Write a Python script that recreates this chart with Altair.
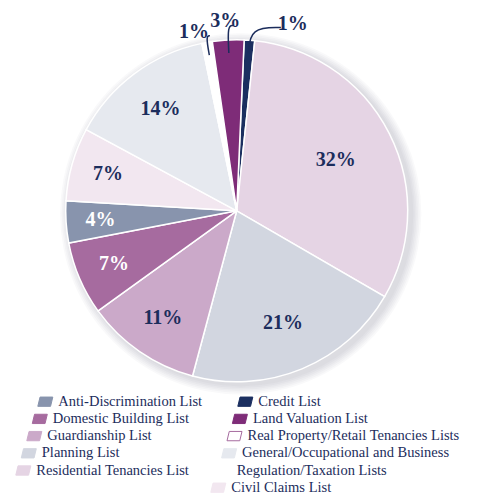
import altair as alt
import pandas as pd

# ---- data (clockwise from the top) ----
categories = [
    "Credit List",
    "Residential Tenancies List",
    "Planning List",
    "Guardianship List",
    "Domestic Building List",
    "Anti-Discrimination List",
    "Civil Claims List",
    "General/Occupational and Business Regulation/Taxation Lists",
    "Real Property/Retail Tenancies Lists",
    "Land Valuation List",
]
shares = [1, 32, 21, 11, 7, 4, 7, 14, 1, 3]
slice_colors = ["#1b2f60", "#e5d4e4", "#d2d6e0", "#cba9c9", "#a66b9f",
                "#8894ad", "#f2e7f0", "#e6e9ef", "#ffffff", "#7e2c78"]

legend_left = ["Anti-Discrimination List", "Domestic Building List", "Guardianship List",
               "Planning List", "Residential Tenancies List"]
legend_right = ["Credit List", "Land Valuation List", "Real Property/Retail Tenancies Lists",
                "General/Occupational and Business Regulation/Taxation Lists", "Civil Claims List"]
wrapped = {"General/Occupational and Business Regulation/Taxation Lists":
           ["General/Occupational and Business", "Regulation/Taxation Lists"]}

pie_df = pd.DataFrame({"category": categories, "share": shares, "slot": list(range(len(categories)))})

rows = []
for col, names in enumerate([legend_left, legend_right]):
    row = 0
    for name in names:
        for k, line in enumerate(wrapped.get(name, [name])):
            rows.append({"category": name, "col": col, "row": row, "text": line, "first": k == 0})
            row += 1
legend_df = pd.DataFrame(rows)

# ---- layout / style ----
W, H = 461, 487
CX, CY = 228.7, 202.8
R = 171
OFF = 0.0436
NAVY = "#1c2d5c"
FONT = "Liberation Serif"
PURPLE_EDGE = "#a66b9f"

xs = alt.Scale(domain=[-CX, W - CX], nice=False, zero=False)
ys = alt.Scale(domain=[-(H - CY), CY], nice=False, zero=False)
color_scale = alt.Scale(domain=categories, range=slice_colors)
stroke_scale = alt.Scale(domain=categories,
                         range=[c if c != "#ffffff" else PURPLE_EDGE for c in slice_colors])

base = (
    alt.Chart(pie_df)
    .transform_window(cum="sum(share)", sort=[alt.SortField("slot", order="ascending")], frame=[None, 0])
    .transform_joinaggregate(total="sum(share)")
    .transform_calculate(a0=f"{OFF} + 2*PI*(datum.cum - datum.share)/datum.total")
    .transform_calculate(a1=f"{OFF} + 2*PI*datum.cum/datum.total")
    .transform_calculate(mid="(datum.a0 + datum.a1)/2")
    .transform_calculate(signed="datum.mid > PI ? datum.mid - 2*PI : datum.mid")
    .transform_calculate(cx="0")
    .transform_calculate(cy="0")
)

# soft shadow
shadow_layers = []
for i in range(1, 7):
    shadow_layers.append(
        base.transform_filter("datum.slot == 0")
        .transform_calculate(sx="4", sy="-3")
        .mark_arc(radius=R + 1.6 * i, theta=0, theta2=6.2832, fill="#5a5a70", opacity=0.035)
        .encode(x=alt.X("sx:Q", scale=xs, axis=None), y=alt.Y("sy:Q", scale=ys, axis=None))
    )

pie = base.mark_arc(radius=R, stroke="white", strokeWidth=1.5).encode(
    x=alt.X("cx:Q", scale=xs, axis=None),
    y=alt.Y("cy:Q", scale=ys, axis=None),
    theta=alt.Theta("a0:Q", scale=None, stack=None),
    theta2="a1:Q",
    fill=alt.Fill("category:N", scale=color_scale, legend=None),
)

inner = (
    base.transform_filter("datum.share > 3")
    .transform_calculate(lr="140 - 0.9*datum.share")
    .transform_calculate(lx="datum.lr*sin(datum.mid)")
    .transform_calculate(ly="datum.lr*cos(datum.mid)")
    .transform_calculate(txt="datum.share + '%'")
    .mark_text(font=FONT, fontSize=20, fontWeight="bold", baseline="middle", align="center")
    .encode(
        x=alt.X("lx:Q", scale=xs, axis=None),
        y=alt.Y("ly:Q", scale=ys, axis=None),
        text="txt:N",
        color=alt.condition(
            alt.FieldOneOfPredicate(field="category",
                                    oneOf=["Domestic Building List", "Anti-Discrimination List"]),
            alt.value("white"), alt.value(NAVY)),
    )
)

outer_base = (
    base.transform_filter("datum.share <= 3")
    .transform_calculate(la="datum.signed < 0 ? 1.4*datum.signed + 0.009 : 3.9*datum.signed")
    .transform_calculate(olr="192 + 46*datum.signed")
    .transform_calculate(ox="datum.olr*sin(datum.la)")
    .transform_calculate(oy="datum.olr*cos(datum.la)")
)

outer = (
    outer_base
    .transform_calculate(txt="datum.share + '%'")
    .mark_text(font=FONT, fontSize=20, fontWeight="bold", baseline="middle", align="center", color=NAVY)
    .encode(x=alt.X("ox:Q", scale=xs, axis=None), y=alt.Y("oy:Q", scale=ys, axis=None), text="txt:N")
)

leaders = (
    outer_base
    .transform_calculate(ex="datum.ox - 16*max(-1, min(1, datum.signed*10))")
    .transform_calculate(ey="datum.oy - 4")
    .transform_calculate(p0="0", p1="1", p2="2")
    .transform_fold(["p0", "p1", "p2"], as_=["pt", "k"])
    .transform_calculate(
        px="datum.pt == 'p0' ? 158*sin(datum.signed) : datum.pt == 'p1' ? datum.ey*tan(datum.signed) : datum.ex")
    .transform_calculate(
        py="datum.pt == 'p0' ? 158*cos(datum.signed) : datum.ey")
    .mark_line(interpolate="basis", color=NAVY, strokeWidth=1.5)
    .encode(
        x=alt.X("px:Q", scale=xs, axis=None),
        y=alt.Y("py:Q", scale=ys, axis=None),
        detail="category:N",
        order=alt.Order("pt:N"),
    )
)

leg_base = (
    alt.Chart(legend_df)
    .transform_calculate(tx="datum.col == 0 ? -178.4 - 5.5*datum.row : 21.6 - 5.4*datum.row")
    .transform_calculate(ty="-190.9 - 17.2*datum.row")
    .transform_calculate(sx="datum.tx - 13")
)

leg_symbols = (
    leg_base.transform_filter("datum.first")
    .mark_point(shape="M-1,0.62L-0.7,-0.62L1,-0.62L0.7,0.62Z", size=225, filled=True, strokeWidth=1, opacity=1)
    .encode(
        x=alt.X("sx:Q", scale=xs, axis=None),
        y=alt.Y("ty:Q", scale=ys, axis=None),
        fill=alt.Fill("category:N", scale=color_scale, legend=None),
        stroke=alt.Stroke("category:N", scale=stroke_scale, legend=None),
    )
)

leg_text = leg_base.mark_text(font=FONT, fontSize=14.5, align="left", baseline="middle", color=NAVY).encode(
    x=alt.X("tx:Q", scale=xs, axis=None),
    y=alt.Y("ty:Q", scale=ys, axis=None),
    text="text:N",
)

chart = (
    alt.layer(*shadow_layers, pie, inner, leaders, outer, leg_symbols, leg_text)
    .resolve_scale(fill="shared")
    .properties(width=W, height=H, padding=0, autosize=alt.AutoSizeParams(type="none"))
    .configure_view(stroke=None)
)

chart.save("out.html", embed_options={"renderer": "svg", "actions": False})
